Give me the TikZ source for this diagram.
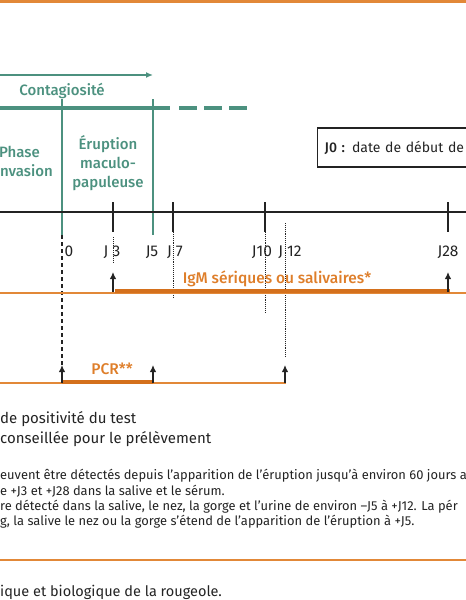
\documentclass[tikz,border=0pt]{standalone}
\usepackage{fontspec}
\setmainfont{Fira Sans}[BoldFont={Fira Sans Medium}]
\usetikzlibrary{arrows.meta,positioning,calc}
\definecolor{phasegreen}{RGB}{76,145,127}
\definecolor{lineorange}{RGB}{226,136,56}
\definecolor{barorange}{RGB}{212,112,28}
\definecolor{textorange}{RGB}{222,126,42}
\definecolor{axisgray}{RGB}{35,35,35}

\begin{document}
\begin{tikzpicture}[
    x=1pt, y=-1pt,
    lbl/.style={font=\fontsize{15.5}{18}\selectfont, text=axisgray, inner sep=0pt, anchor=base},
    phase/.style={font=\fontsize{15}{18}\selectfont\bfseries, text=phasegreen, inner sep=0pt, anchor=base},
    igm/.style={font=\fontsize{15.5}{18}\selectfont\bfseries, text=textorange, inner sep=0pt, anchor=base},
    note/.style={font=\fontsize{12.9}{15}\selectfont, text=axisgray, inner sep=0pt, anchor=base west},
    tickmark/.style={line width=1.3pt, axisgray},
    guide/.style={densely dotted, line width=0.9pt, axisgray},
    up/.style={-{Latex[length=7pt,width=6.5pt]}, line width=1.3pt, axisgray},
    thinbar/.style={lineorange, line width=1.5pt},
    thickbar/.style={barorange, line width=4.5pt}
]
    \useasboundingbox (0,0) rectangle (466,600);
    \clip (0,0) rectangle (466,600);

    % ---- Bandeaux ----
    \coordinate (top_l) at (0,1.5);
    \coordinate (top_r) at (466,1.5);
    \draw[lineorange, line width=3pt] (top_l) -- (top_r);
    \coordinate (sep_l) at (0,560);
    \coordinate (sep_r) at (466,560);
    \draw[lineorange, line width=2pt] (sep_l) -- (sep_r);

    % ---- Contagiosite ----
    \coordinate (c_l) at (0,75);
    \coordinate (c_r) at (153,75);
    \draw[phasegreen, line width=1.3pt, -{Latex[length=7pt,width=6pt]}] (c_l) -- (c_r);
    \node[phase] (contag) at (62,95) {Contagiosité};
    \coordinate (g_l) at (0,108);
    \coordinate (g_m) at (170,108);
    \coordinate (g_d) at (179,108);
    \coordinate (g_r) at (247,108);
    \draw[phasegreen, line width=4pt] (g_l) -- (g_m);
    \draw[phasegreen, line width=4pt, dash pattern=on 18pt off 7pt] (g_d) -- (g_r);

    % ---- Phases ----
    \coordinate (v0_t) at (62,99);
    \coordinate (v0_b) at (62,235);
    \coordinate (v5_t) at (153,99);
    \coordinate (v5_b) at (153,235);
    \draw[phasegreen, line width=1.4pt] (v0_t) -- (v0_b);
    \draw[phasegreen, line width=1.4pt] (v5_t) -- (v5_b);
    \node[phase, anchor=base east] (inv1) at (40,157) {Phase};
    \node[phase, anchor=base east] (inv2) at (53,176) {nvasion};
    \node[phase] (erup1) at (108,149) {Éruption};
    \node[phase] (erup2) at (108,168) {maculo-};
    \node[phase] (erup3) at (108,187) {papuleuse};

    % ---- Legende J0 ----
    \node[draw=axisgray, line width=1.3pt, anchor=west, minimum height=39pt,
          text width=170pt, inner xsep=7pt, align=left,
          font=\fontsize{14}{17}\selectfont, text=axisgray] (j0box) at (317,147.5)
          {\textbf{J0 :} date de début de};

    % ---- Axe du temps ----
    \coordinate (ax_l) at (0,212);
    \coordinate (ax_r) at (466,212);
    \draw[axisgray, line width=2.8pt] (ax_l) -- (ax_r);
    \foreach \name/\x in {j3/113, j7/173, j10/265, j28/448} {
        \coordinate (\name_t) at (\x,202);
        \coordinate (\name_b) at (\x,232);
        \draw[tickmark] (\name_t) -- (\name_b);
    }
    \node[lbl] (l0) at (69,256) {0};
    \node[lbl] (l3) at (112,256) {J 3};
    \node[lbl] (l5) at (152,256) {J5};
    \node[lbl] (l7) at (175,256) {J 7};
    \node[lbl] (l10) at (262,256) {J10};
    \node[lbl] (l12) at (290,256) {J 12};
    \node[lbl] (l28) at (448,256) {J28};

    % ---- Reperes ----
    \coordinate (d3_t) at (113,237);
    \coordinate (d3_b) at (113,263);
    \coordinate (d7_b) at (173,297);
    \coordinate (d10_b) at (265,313);
    \coordinate (d12_t) at (285,223);
    \coordinate (d12_b) at (285,357);
    \coordinate (d0_b) at (62,367);
    \draw[guide] (d3_t) -- (d3_b);
    \draw[guide] (j7_b) -- (d7_b);
    \draw[guide] (j10_b) -- (d10_b);
    \draw[guide] (d12_t) -- (d12_b);
    \draw[axisgray, line width=1.1pt, dash pattern=on 4pt off 3pt] (v0_b) -- (d0_b);

    % ---- IgM ----
    \coordinate (igm_l) at (0,293);
    \coordinate (igm_r) at (466,293);
    \coordinate (igm_a) at (115,291);
    \coordinate (igm_b) at (450,291);
    \draw[thinbar] (igm_l) -- (igm_r);
    \draw[thickbar] (igm_a) -- (igm_b);
    \node[igm] (igm) at (277,283) {IgM sériques ou salivaires*};
    \coordinate (a3_s) at (113,292);
    \coordinate (a3_e) at (113,272);
    \coordinate (a28_s) at (448,292);
    \coordinate (a28_e) at (448,272);
    \draw[up] (a3_s) -- (a3_e);
    \draw[up] (a28_s) -- (a28_e);

    % ---- PCR ----
    \coordinate (pcr_l) at (0,383);
    \coordinate (pcr_r) at (285.6,383);
    \coordinate (pcr_a) at (62,382);
    \coordinate (pcr_b) at (153,382);
    \draw[thinbar] (pcr_l) -- (pcr_r);
    \draw[thickbar, line width=4pt] (pcr_a) -- (pcr_b);
    \node[igm] (pcr) at (112,374) {PCR**};
    \coordinate (p0_s) at (62,383);
    \coordinate (p0_e) at (62,365);
    \coordinate (p5_s) at (153,383);
    \coordinate (p5_e) at (153,365);
    \coordinate (p12_s) at (285,383);
    \coordinate (p12_e) at (285,365);
    \draw[up] (p0_s) -- (p0_e);
    \draw[up] (p5_s) -- (p5_e);
    \draw[up] (p12_s) -- (p12_e);

    % ---- Legende ----
    \node[note, font=\fontsize{15}{18}\selectfont] (leg1) at (0,423) {de positivité du test};
    \node[note, font=\fontsize{15}{18}\selectfont] (leg2) at (0,443) {conseillée pour le prélèvement};

    % ---- Notes ----
    \node[note] (n1) at (0,479) {euvent être détectés depuis l'apparition de l'éruption jusqu'à environ 60 jours a};
    \node[note] (n2) at (0,495) {e +J3 et +J28 dans la salive et le sérum.};
    \node[note] (n3) at (0,510) {re détecté dans la salive, le nez, la gorge et l'urine de environ –J5 à +J12. La pér};
    \node[note] (n4) at (0,525) {g, la salive le nez ou la gorge s'étend de l'apparition de l'éruption à +J5.};

    % ---- Titre ----
    \node[note, font=\fontsize{14.5}{17}\selectfont] (caption) at (0,596) {ique et biologique de la rougeole.};
\end{tikzpicture}
\end{document}
